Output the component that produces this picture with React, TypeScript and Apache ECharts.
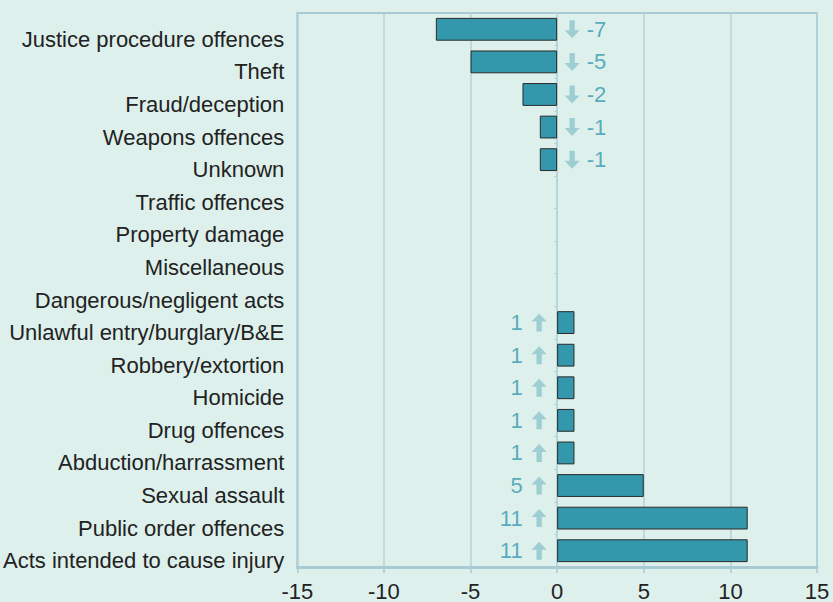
import React, { useEffect, useRef } from "react";
import * as echarts from "echarts";

const categories = [
  "Justice procedure offences",
  "Theft",
  "Fraud/deception",
  "Weapons offences",
  "Unknown",
  "Traffic offences",
  "Property damage",
  "Miscellaneous",
  "Dangerous/negligent acts",
  "Unlawful entry/burglary/B&E",
  "Robbery/extortion",
  "Homicide",
  "Drug offences",
  "Abduction/harrassment",
  "Sexual assault",
  "Public order offences",
  "Acts intended to cause injury",
];
const values = [-7, -5, -2, -1, -1, 0, 0, 0, 0, 1, 1, 1, 1, 1, 5, 11, 11];
const xTicks = [-15, 15, 5]; // min, max, interval

const ARROW_UP = "path://M7,0 L14,8 L9.5,8 L9.5,18 L4.5,18 L4.5,8 L0,8 Z";
const FONT = "'Liberation Sans', Arial, sans-serif";

export default function App() {
  const ref = useRef<HTMLDivElement>(null);
  useEffect(() => {
    const chart = echarts.init(ref.current!, undefined, { renderer: "svg" });
    const valueColor = "#3399ae";
    const arrowColor = "#8cc6cc";
    const barData = values.map((v) => (v === 0 ? "-" : v));
    const downData = values.map((v, i) => (v < 0 ? { value: [0, categories[i]], v } : "-"));
    const upData = values.map((v, i) => (v > 0 ? { value: [0, categories[i]], v } : "-"));
    chart.setOption({
      animation: false,
      backgroundColor: "#ddf0ec",
      grid: {
        left: 297,
        right: 16,
        top: 13,
        bottom: 34,
        show: true,
        borderColor: "#a9cad3",
        borderWidth: 2,
        backgroundColor: "transparent",
      },
      xAxis: {
        type: "value",
        min: xTicks[0],
        max: xTicks[1],
        interval: xTicks[2],
        axisLine: { show: true, onZero: false, lineStyle: { color: "#a9cad3", width: 3 } },
        axisTick: { show: true, length: 6, lineStyle: { color: "#a9cad3", width: 1.5 } },
        axisLabel: { fontSize: 22, color: "#222", margin: 13, fontFamily: FONT },
        splitLine: { show: true, lineStyle: { color: "#b5d3da", width: 1.5 } },
      },
      yAxis: [
        {
          type: "category",
          data: categories,
          inverse: true,
          axisLine: { show: false, onZero: false },
          axisTick: { show: false },
          axisLabel: {
            fontSize: 22,
            color: "#222",
            margin: 13,
            verticalAlign: "top",
            lineHeight: 20,
            fontFamily: FONT,
          },
        },
        {
          type: "category",
          data: categories,
          inverse: true,
          position: "left",
          axisLine: { show: true, onZero: true, lineStyle: { color: "#b5d3da", width: 1.5 } },
          axisTick: { show: true, length: 3, lineStyle: { color: "#b5d3da" } },
          axisLabel: { show: false },
          splitLine: { show: false },
        },
      ],
      series: [
        {
          type: "bar",
          data: barData,
          barWidth: "70%",
          itemStyle: { color: "#3498ad", borderColor: "#2a2a2a", borderWidth: 1 },
        },
        {
          type: "scatter",
          data: downData,
          symbol: ARROW_UP,
          symbolRotate: 180,
          symbolSize: [15, 18],
          symbolOffset: [15, 0],
          itemStyle: { color: arrowColor },
          label: {
            show: true,
            position: "right",
            distance: 7,
            fontSize: 22,
            color: valueColor,
            fontFamily: FONT,
            formatter: (p: any) => String(p.data.v),
          },
        },
        {
          type: "scatter",
          data: upData,
          symbol: ARROW_UP,
          symbolSize: [15, 18],
          symbolOffset: [-18, 0],
          itemStyle: { color: arrowColor },
          label: {
            show: true,
            position: "left",
            distance: 9,
            fontSize: 22,
            color: valueColor,
            fontFamily: FONT,
            formatter: (p: any) => String(p.data.v),
          },
        },
      ],
    });
    return () => chart.dispose();
  }, []);
  return <div ref={ref} style={{ width: 833, height: 602, position: "absolute", left: 0, top: 0 }} />;
}
